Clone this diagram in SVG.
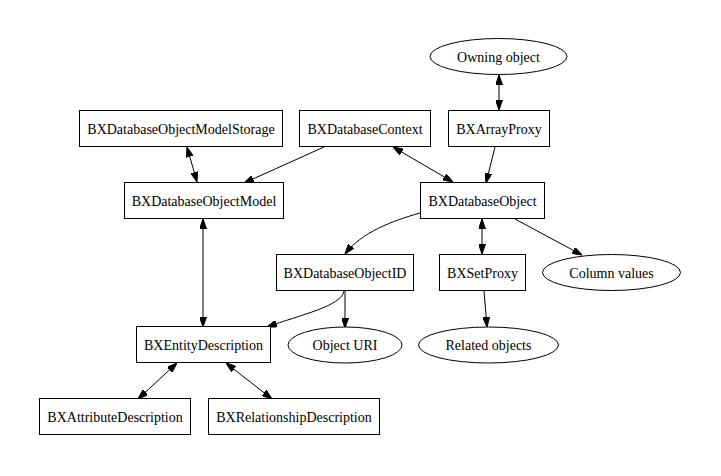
<svg xmlns="http://www.w3.org/2000/svg" width="721" height="476" viewBox="0 0 721 476">
<defs>
<style>
.n rect, .n ellipse { fill: #fff; stroke: #000; stroke-width: 1; }
.n text { font-family: "Liberation Serif", "Times New Roman", serif; font-size: 14px; text-anchor: middle; fill: #000; }
.e path { fill: none; stroke: #000; stroke-width: 1; }
.e .one { marker-end: url(#ah); }
.e .two { marker-start: url(#ah); marker-end: url(#ah); }
</style>
<marker id="ah" viewBox="0 0 10 7" refX="10" refY="3.5" markerWidth="10" markerHeight="7" markerUnits="userSpaceOnUse" orient="auto-start-reverse">
<path d="M0,0 L10,3.5 L0,7 z" fill="#000" stroke="#000" stroke-width="1"/>
</marker>
</defs>
<rect width="721" height="476" fill="#fff"/>
<g id="edges" class="e">
<path class="two" d="M187,147 L197,182"/>
<path class="one" d="M324,147 L244,183"/>
<path class="two" d="M393,147 L453,182"/>
<path class="two" d="M499,75 L499,110"/>
<path class="one" d="M495,147 L486,183"/>
<path class="one" d="M420,213 C392,221 362,232 345,254"/>
<path class="two" d="M482,219 L482,254"/>
<path class="one" d="M515,219 L582,255"/>
<path class="one" d="M344,291 C342,306 300,315 267,327"/>
<path class="one" d="M345,291 L345,328"/>
<path class="two" d="M203,219 L203,327"/>
<path class="one" d="M484,291 L487,327"/>
<path class="two" d="M177,363 L138,399"/>
<path class="two" d="M226,363 L272,399"/>
</g>
<g id="owning" class="n"><ellipse cx="498.5" cy="56.5" rx="68.5" ry="18"/><text x="498.5" y="61.5">Owning object</text></g>
<g id="storage" class="n"><rect x="79.5" y="110.5" width="203" height="36"/><text x="181" y="133.5">BXDatabaseObjectModelStorage</text></g>
<g id="context" class="n"><rect x="299.5" y="110.5" width="131" height="36"/><text x="365" y="133.5">BXDatabaseContext</text></g>
<g id="arrayproxy" class="n"><rect x="448.5" y="110.5" width="101" height="36"/><text x="499" y="133.5">BXArrayProxy</text></g>
<g id="model" class="n"><rect x="124.5" y="182.5" width="159" height="36"/><text x="204" y="205.5">BXDatabaseObjectModel</text></g>
<g id="object" class="n"><rect x="420.5" y="182.5" width="124" height="36"/><text x="482.5" y="205.5">BXDatabaseObject</text></g>
<g id="objectid" class="n"><rect x="276.5" y="254.5" width="137" height="36"/><text x="345" y="277.5">BXDatabaseObjectID</text></g>
<g id="setproxy" class="n"><rect x="439.5" y="254.5" width="86" height="36"/><text x="482.5" y="277.5">BXSetProxy</text></g>
<g id="column" class="n"><ellipse cx="611.5" cy="272.5" rx="69" ry="18"/><text x="611.5" y="277.5">Column values</text></g>
<g id="entity" class="n"><rect x="136.5" y="326.5" width="134" height="36"/><text x="203.5" y="349.5">BXEntityDescription</text></g>
<g id="uri" class="n"><ellipse cx="345" cy="345" rx="57" ry="18"/><text x="345" y="350">Object URI</text></g>
<g id="related" class="n"><ellipse cx="488.5" cy="345" rx="70" ry="18"/><text x="488.5" y="350">Related objects</text></g>
<g id="attribute" class="n"><rect x="39.5" y="398.5" width="151" height="36"/><text x="115" y="421.5">BXAttributeDescription</text></g>
<g id="relationship" class="n"><rect x="208.5" y="398.5" width="171" height="36"/><text x="294" y="421.5">BXRelationshipDescription</text></g>
</svg>
